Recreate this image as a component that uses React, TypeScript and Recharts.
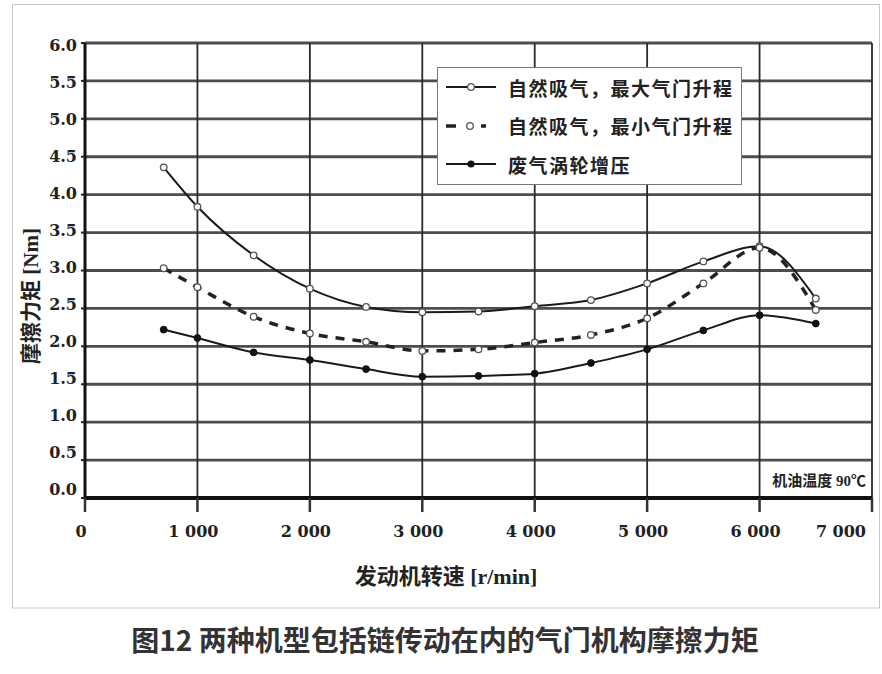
import React from 'react';
import { LineChart, Line, XAxis, YAxis, CartesianGrid, Legend } from 'recharts';

// Engine speed [r/min]
const rpm = [700, 1000, 1500, 2000, 2500, 3000, 3500, 4000, 4500, 5000, 5500, 6000, 6500];
// Friction torque [Nm]
const maxLiftNm = [4.36, 3.84, 3.2, 2.76, 2.52, 2.45, 2.46, 2.53, 2.61, 2.83, 3.12, 3.32, 2.63];
const minLiftNm = [3.03, 2.78, 2.39, 2.17, 2.06, 1.94, 1.96, 2.05, 2.15, 2.37, 2.83, 3.3, 2.48];
const turboNm = [2.22, 2.11, 1.92, 1.82, 1.7, 1.6, 1.61, 1.64, 1.78, 1.96, 2.21, 2.41, 2.3];

const xTicks = [0, 1000, 2000, 3000, 4000, 5000, 6000, 7000];
const yTicks = [0, 0.5, 1, 1.5, 2, 2.5, 3, 3.5, 4, 4.5, 5, 5.5, 6];

const seriesNames = ['自然吸气，最大气门升程', '自然吸气，最小气门升程', '废气涡轮增压'];
const xTitle = '发动机转速 [r/min]';
const yTitle = '摩擦力矩 [Nm]';
const noteText = '机油温度 90℃';
const caption = '图12 两种机型包括链传动在内的气门机构摩擦力矩';

const data = rpm.map((r, i) => ({
  rpm: r,
  maxLift: maxLiftNm[i],
  minLift: minLiftNm[i],
  turbo: turboNm[i],
}));

const tickFont = "'DejaVu Serif', 'Liberation Serif', serif";
const cjkFont = "'Liberation Serif', 'Noto Sans CJK SC', serif";

const fmtX = (v: number) => (v === 0 ? '0' : `${Math.round(v / 1000)} 000`);

const XTick = (props: any) => {
  const { x, y, payload } = props;
  const v = payload.value as number;
  const last = v === 7000;
  return (
    <text
      x={last ? x - 6 : x - 4}
      y={y}
      dy={11}
      textAnchor={last ? 'end' : 'middle'}
      fontFamily={tickFont}
      fontWeight={700}
      fontSize={16}
      fill="#222"
    >
      {fmtX(v)}
    </text>
  );
};

const YTick = (props: any) => {
  const { x, y, payload } = props;
  const v = payload.value as number;
  const cy = y + 2 - (6 - v) * 1.8;
  return (
    <text
      x={x}
      y={cy}
      dy={6}
      textAnchor="end"
      fontFamily={tickFont}
      fontWeight={700}
      fontSize={16}
      fill="#222"
    >
      {v.toFixed(1)}
    </text>
  );
};

const hLine = (p: any) => (
  <line key={p.key} x1={p.x1} y1={p.y1} x2={p.x2} y2={p.y2} stroke="#4d4d4d" strokeWidth={2.8} />
);
const vLine = (p: any) => (
  <line key={p.key} x1={p.x1} y1={p.y1} x2={p.x2} y2={p.y2} stroke="#2a2a2a" strokeWidth={1.8} />
);

const OpenDot = (props: any) => {
  const { cx, cy, index } = props;
  if (cx == null || cy == null) return null;
  return <circle key={`o-${index}`} cx={cx} cy={cy} r={3.3} fill="#fff" stroke="#555" strokeWidth={1.3} />;
};
const OpenDot2 = (props: any) => {
  const { cx, cy, index } = props;
  if (cx == null || cy == null) return null;
  return <circle key={`p-${index}`} cx={cx} cy={cy} r={3.3} fill="#fff" stroke="#555" strokeWidth={1.3} />;
};
const FilledDot = (props: any) => {
  const { cx, cy, index } = props;
  if (cx == null || cy == null) return null;
  return <circle key={`f-${index}`} cx={cx} cy={cy} r={3.4} fill="#111" stroke="#111" strokeWidth={1} />;
};

const LegendBox = () => {
  const rows = [0, 1, 2];
  return (
    <div
      style={{
        width: 305,
        height: 118,
        border: '1.5px solid #777',
        background: '#fff',
        boxSizing: 'border-box',
        position: 'relative',
      }}
    >
      {rows.map((i) => (
        <div
          key={i}
          style={{
            position: 'absolute',
            left: 0,
            top: 2 + i * 38.5,
            height: 34,
            width: 300,
            display: 'flex',
            alignItems: 'center',
          }}
        >
          <svg width={62} height={20} style={{ marginLeft: 6 }}>
            {i === 0 && (
              <g>
                <line x1={2} y1={10} x2={52} y2={10} stroke="#1a1a1a" strokeWidth={2.2} />
                <circle cx={27} cy={10} r={3.3} fill="#fff" stroke="#555" strokeWidth={1.3} />
              </g>
            )}
            {i === 1 && (
              <g>
                <line x1={2} y1={10} x2={12} y2={10} stroke="#222" strokeWidth={3.5} />
                <circle cx={26} cy={10} r={3.3} fill="#fff" stroke="#555" strokeWidth={1.3} />
                <line x1={37} y1={10} x2={42} y2={10} stroke="#222" strokeWidth={3.5} />
              </g>
            )}
            {i === 2 && (
              <g>
                <line x1={2} y1={10} x2={52} y2={10} stroke="#1a1a1a" strokeWidth={2.2} />
                <circle cx={27} cy={10} r={3.6} fill="#111" />
              </g>
            )}
          </svg>
          <span
            style={{
              fontFamily: "'Noto Sans CJK SC', sans-serif",
              fontWeight: 700,
              fontSize: 19,
              letterSpacing: 1.5,
              color: '#222',
              marginLeft: 2,
              whiteSpace: 'nowrap',
            }}
          >
            {seriesNames[i]}
          </span>
        </div>
      ))}
    </div>
  );
};

export default function App() {
  return (
    <div style={{ position: 'absolute', left: 0, top: 0, width: 882, height: 674, background: '#fff' }}>
      <LineChart
        width={882}
        height={674}
        data={data}
        margin={{ top: 43, right: 10, left: 25, bottom: 136 }}
      >
        <CartesianGrid horizontal={hLine} vertical={false} />
        <CartesianGrid horizontal={false} vertical={vLine} />
        <XAxis
          dataKey="rpm"
          type="number"
          domain={[0, 7000]}
          ticks={xTicks}
          interval={0}
          height={40}
          axisLine={{ stroke: '#111', strokeWidth: 4 }}
          tickLine={{ stroke: '#333', strokeWidth: 2.5 }}
          tickSize={14}
          tickMargin={14}
          tick={<XTick />}
        />
        <YAxis
          type="number"
          domain={[0, 6]}
          ticks={yTicks}
          interval={0}
          width={60}
          axisLine={{ stroke: '#111', strokeWidth: 3 }}
          tickLine={{ stroke: '#222', strokeWidth: 2 }}
          tickSize={4}
          tickMargin={4}
          tick={<YTick />}
        />
        <Legend
          layout="vertical"
          align="center"
          verticalAlign="middle"
          wrapperStyle={{ left: 437, top: 67, width: 305, height: 118 }}
          content={() => <LegendBox />}
        />
        <Line
          type="monotone"
          dataKey="maxLift"
          name={seriesNames[0]}
          stroke="#1a1a1a"
          strokeWidth={2}
          dot={<OpenDot />}
          isAnimationActive={false}
        />
        <Line
          type="monotone"
          dataKey="minLift"
          name={seriesNames[1]}
          stroke="#222"
          strokeWidth={3.5}
          strokeDasharray="9 8"
          dot={<OpenDot2 />}
          isAnimationActive={false}
        />
        <Line
          type="monotone"
          dataKey="turbo"
          name={seriesNames[2]}
          stroke="#1a1a1a"
          strokeWidth={2}
          dot={<FilledDot />}
          isAnimationActive={false}
        />
      </LineChart>
      <svg
        width={882}
        height={674}
        style={{ position: 'absolute', left: 0, top: 0, pointerEvents: 'none' }}
      >
        <rect x={12.5} y={4.5} width={867} height={603.5} fill="none" stroke="#c8c8c8" strokeWidth={1} />
        <text
          x={866}
          y={486}
          textAnchor="end"
          fontFamily={cjkFont}
          fontWeight={700}
          fontSize={15}
          fill="#222"
        >
          {noteText}
        </text>
        <text
          x={446}
          y={584}
          textAnchor="middle"
          fontFamily={cjkFont}
          fontWeight={700}
          fontSize={22}
          fill="#222"
        >
          {xTitle}
        </text>
        <text
          x={0}
          y={0}
          transform="translate(38 296) rotate(-90)"
          textAnchor="middle"
          fontFamily={cjkFont}
          fontWeight={700}
          fontSize={21}
          fill="#222"
        >
          {yTitle}
        </text>
        <text
          x={445}
          y={651}
          textAnchor="middle"
          fontFamily="'Noto Sans CJK SC', sans-serif"
          fontWeight={700}
          fontSize={28}
          fill="#333"
        >
          {caption}
        </text>
      </svg>
    </div>
  );
}
